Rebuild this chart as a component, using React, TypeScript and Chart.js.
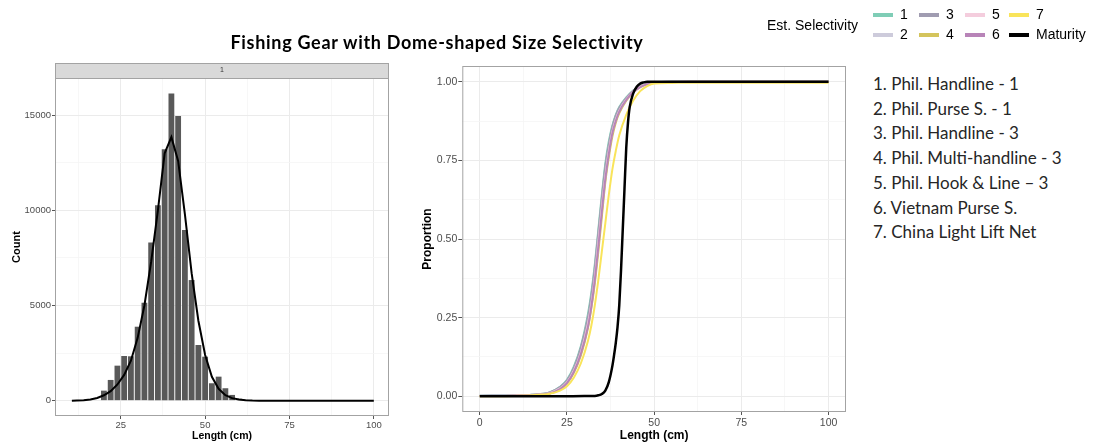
import React, { useEffect, useRef } from 'react';
import Chart from 'chart.js/auto';

// ---------- Data ----------
const histCenters = [20, 22, 24, 26, 28, 30, 32, 34, 36, 38, 40, 42, 44, 46, 48, 50, 52, 54, 56, 58, 60, 62];
const histCounts = [525, 1087, 1838, 2347, 2330, 3885, 5145, 8316, 10274, 13214, 16138, 14963, 8962, 6337, 2924, 2310, 913, 1260, 651, 300, 100, 40];

const densityX = [10.5, 12, 14, 16, 18, 20, 22, 24, 26, 28, 30, 32, 34, 36, 38, 40, 42, 44, 46, 48, 50, 52, 54, 56, 58, 60, 62, 64, 66, 70, 80, 90, 100];
const densityY = [0, 10, 25, 60, 140, 280, 500, 850, 1350, 2100, 3300, 5000, 7300, 10000, 13000, 13850, 12600, 9800, 6700, 4200, 2400, 1250, 620, 290, 130, 55, 20, 6, 0, 0, 0, 0, 0];

const selLengths = [0, 10, 15, 20, 23, 25, 27, 29, 31, 32, 33, 34, 35, 36, 37, 38, 39, 40, 42, 44, 46, 48, 50, 55, 60, 100];
const sel1 = [0.002, 0.003, 0.005, 0.012, 0.03, 0.052, 0.095, 0.16, 0.26, 0.33, 0.42, 0.53, 0.64, 0.74, 0.81, 0.86, 0.895, 0.92, 0.95, 0.972, 0.986, 0.994, 0.998, 1, 1, 1];
const sel2 = [0.002, 0.003, 0.005, 0.011, 0.028, 0.048, 0.088, 0.15, 0.245, 0.31, 0.4, 0.51, 0.62, 0.72, 0.795, 0.85, 0.888, 0.915, 0.947, 0.97, 0.985, 0.993, 0.998, 1, 1, 1];
const sel3 = [0.002, 0.003, 0.005, 0.012, 0.029, 0.05, 0.09, 0.155, 0.25, 0.32, 0.41, 0.52, 0.63, 0.73, 0.8, 0.855, 0.892, 0.917, 0.948, 0.971, 0.985, 0.993, 0.998, 1, 1, 1];
const sel4 = [0.001, 0.002, 0.004, 0.009, 0.022, 0.04, 0.075, 0.13, 0.215, 0.28, 0.36, 0.46, 0.57, 0.68, 0.76, 0.825, 0.87, 0.9, 0.94, 0.966, 0.983, 0.992, 0.997, 0.999, 1, 1];
const sel5 = [0.001, 0.002, 0.004, 0.01, 0.025, 0.044, 0.082, 0.14, 0.23, 0.295, 0.38, 0.49, 0.6, 0.7, 0.78, 0.84, 0.88, 0.908, 0.943, 0.968, 0.984, 0.993, 0.997, 1, 1, 1];
const sel6 = [0.001, 0.002, 0.004, 0.009, 0.023, 0.042, 0.078, 0.135, 0.22, 0.285, 0.37, 0.475, 0.585, 0.69, 0.77, 0.835, 0.875, 0.905, 0.942, 0.967, 0.983, 0.992, 0.997, 0.999, 1, 1];
const sel7 = [0, 0.001, 0.003, 0.008, 0.018, 0.032, 0.06, 0.105, 0.175, 0.225, 0.29, 0.37, 0.46, 0.55, 0.64, 0.72, 0.78, 0.83, 0.895, 0.94, 0.97, 0.986, 0.994, 0.996, 0.997, 0.997];
const selSeries = [sel1, sel2, sel3, sel4, sel5, sel6, sel7];

const matLengths = [0, 20, 30, 33, 34, 35, 36, 37, 38, 38.5, 39, 39.5, 40, 40.5, 41, 41.5, 42, 42.5, 43, 44, 45, 46, 47, 48, 50, 100];
const maturity = [0, 0, 0.0005, 0.001, 0.003, 0.007, 0.018, 0.045, 0.095, 0.13, 0.17, 0.22, 0.29, 0.4, 0.53, 0.66, 0.79, 0.87, 0.92, 0.963, 0.984, 0.994, 0.998, 1, 1, 1];

const legendLabels = ['1', '2', '3', '4', '5', '6', '7', 'Maturity'];
const seriesColors = ['#7fcdb6', '#cdcbdb', '#a09cb1', '#d4c45c', '#f4cddd', '#b884b8', '#f9e45a', '#000000'];

const gearLabels = [
  '1. Phil. Handline - 1',
  '2. Phil. Purse S. - 1',
  '3. Phil. Handline - 3',
  '4. Phil. Multi-handline - 3',
  '5. Phil. Hook & Line \u2013 3',
  '6. Vietnam Purse S.',
  '7. China Light Lift Net',
];

const histXMajor = [25, 50, 75, 100];
const histXMinor = [12.5, 37.5, 62.5, 87.5];
const histYMajor = [0, 5000, 10000, 15000];
const histYMinor = [2500, 7500, 12500];
const selXMajor = [0, 25, 50, 75, 100];
const selXMinor = [12.5, 37.5, 62.5, 87.5];
const selYMajor = [0, 0.25, 0.5, 0.75, 1];
const selYMinor = [0.125, 0.375, 0.625, 0.875];

const FONT = "'Liberation Sans', Arial, sans-serif";

function axis(
  majors: number[],
  minors: number[],
  min: number,
  max: number,
  fmt: (v: number) => string,
  fontSize: number,
  title: string,
  titleSize: number,
  titlePad: any,
  fitSize: number,
  isX: boolean,
  tickPad: number,
  tickLen: number
) {
  const all = [...majors, ...minors].sort((a, b) => a - b);
  const isMajor = (v: number) => majors.some((m) => Math.abs(m - v) < 1e-9);
  return {
    type: 'linear',
    min,
    max,
    offset: false,
    afterBuildTicks: (s: any) => {
      s.ticks = all.map((v) => ({ value: v }));
    },
    afterFit: (s: any) => {
      if (isX) s.height = fitSize;
      else s.width = fitSize;
    },
    ticks: {
      autoSkip: false,
      maxRotation: 0,
      minRotation: 0,
      padding: tickPad,
      color: '#4d4d4d',
      font: { family: FONT, size: fontSize },
      callback: (v: any) => (isMajor(Number(v)) ? fmt(Number(v)) : ''),
    },
    grid: {
      offset: false,
      color: (c: any) => (c.tick && isMajor(c.tick.value) ? '#ebebeb' : '#f5f5f5'),
      lineWidth: (c: any) => (c.tick && isMajor(c.tick.value) ? 1 : 0.8),
      drawTicks: true,
      tickLength: tickLen,
      tickColor: (c: any) => (c.tick && isMajor(c.tick.value) ? '#555555' : 'rgba(0,0,0,0)'),
      tickWidth: 1,
    },
    border: { display: false },
    title: {
      display: true,
      text: title,
      color: '#000000',
      font: { family: FONT, size: titleSize, weight: 'bold' },
      padding: titlePad,
    },
  };
}

function framePlugin(strip: string | null) {
  return {
    id: 'frame' + (strip ? 'S' : ''),
    afterDatasetsDraw(chart: any) {
      const { ctx, chartArea: a } = chart;
      ctx.save();
      ctx.strokeStyle = '#a3a3a3';
      ctx.lineWidth = 1;
      ctx.strokeRect(a.left + 0.5, a.top + 0.5, a.right - a.left - 1, a.bottom - a.top - 1);
      if (strip) {
        const h = 15;
        ctx.fillStyle = '#d9d9d9';
        ctx.fillRect(a.left, a.top - h, a.right - a.left, h);
        ctx.strokeStyle = '#a3a3a3';
        ctx.strokeRect(a.left + 0.5, a.top - h + 0.5, a.right - a.left - 1, h);
        ctx.fillStyle = '#333333';
        ctx.font = '7px ' + FONT;
        ctx.textAlign = 'center';
        ctx.textBaseline = 'middle';
        ctx.fillText(strip, (a.left + a.right) / 2, a.top - h / 2);
      }
      ctx.restore();
    },
  };
}

function HistChart() {
  const ref = useRef<HTMLCanvasElement>(null);
  useEffect(() => {
    if (!ref.current) return;
    const chart = new Chart(ref.current, {
      type: 'bar',
      data: {
        datasets: [
          {
            type: 'line',
            data: densityX.map((x, i) => ({ x, y: densityY[i] })),
            borderColor: '#000000',
            borderWidth: 2,
            pointRadius: 0,
            tension: 0,
            order: 0,
          } as any,
          {
            type: 'bar',
            data: histCenters.map((x, i) => ({ x, y: histCounts[i] })),
            backgroundColor: '#595959',
            borderWidth: 0,
            barPercentage: 0.86,
            categoryPercentage: 1,
            order: 1,
          } as any,
        ],
      },
      options: {
        responsive: false,
        animation: false,
        layout: { padding: { top: 78, right: 16, left: 0, bottom: 0 } },
        plugins: { legend: { display: false }, tooltip: { enabled: false } },
        scales: {
          x: axis(histXMajor, histXMinor, 5.5, 104.5, (v) => String(v), 9.5, 'Length (cm)', 10.5, { top: 0, bottom: 0.5 }, 27, true, 1, 3) as any,
          y: axis(histYMajor, histYMinor, -808, 16957, (v) => String(v), 9.5, 'Count', 11, { top: 10.4, bottom: 0 }, 55, false, 1, 3) as any,
        },
      },
      plugins: [framePlugin('1')],
    });
    return () => chart.destroy();
  }, []);
  return <canvas ref={ref} width={405} height={443} style={{ position: 'absolute', left: 0, top: 0, width: 405, height: 443 }} />;
}

function SelChart() {
  const ref = useRef<HTMLCanvasElement>(null);
  useEffect(() => {
    if (!ref.current) return;
    const datasets: any[] = selSeries.map((s, k) => ({
      type: 'line',
      label: legendLabels[k],
      data: selLengths.map((x, i) => ({ x, y: s[i] })),
      borderColor: seriesColors[k],
      borderWidth: 2,
      pointRadius: 0,
      cubicInterpolationMode: 'monotone',
      order: 7 - k,
    }));
    datasets.push({
      type: 'line',
      label: legendLabels[7],
      data: matLengths.map((x, i) => ({ x, y: maturity[i] })),
      borderColor: seriesColors[7],
      borderWidth: 2.5,
      pointRadius: 0,
      cubicInterpolationMode: 'monotone',
      order: 0,
    });
    const chart = new Chart(ref.current, {
      type: 'line',
      data: { datasets },
      options: {
        responsive: false,
        animation: false,
        layout: { padding: { top: 66, right: 19, left: 0, bottom: 0 } },
        plugins: { legend: { display: false }, tooltip: { enabled: false } },
        scales: {
          x: axis(selXMajor, selXMinor, -5, 105, (v) => String(v), 10.5, 'Length (cm)', 12, { top: 0, bottom: 0 }, 31, true, 2, 3) as any,
          y: axis(selYMajor, selYMinor, -0.05, 1.05, (v) => v.toFixed(2), 10.5, 'Proportion', 12, { top: 15.8, bottom: 0 }, 57.3, false, 1, 4) as any,
        },
      },
      plugins: [framePlugin(null)],
    });
    return () => chart.destroy();
  }, []);
  return <canvas ref={ref} width={460} height={443} style={{ position: 'absolute', left: 405, top: 0, width: 460, height: 443 }} />;
}

function Legend() {
  const cols = [873, 919, 965, 1009];
  const rows = [15, 35];
  const items = legendLabels.map((lab, i) => {
    const c = Math.floor(i / 2);
    const r = i % 2;
    return (
      <React.Fragment key={lab}>
        <div style={{ position: 'absolute', left: cols[c], top: rows[r] - 2, width: 20, height: 4, background: seriesColors[i] }} />
        <div style={{ position: 'absolute', left: cols[c] + 27, top: rows[r] - 9, height: 18, lineHeight: '18px', font: `14px ${FONT}`, color: '#000', whiteSpace: 'nowrap' }}>{lab}</div>
      </React.Fragment>
    );
  });
  return (
    <>
      <div style={{ position: 'absolute', left: 767, top: 17, height: 20, lineHeight: '20px', font: `14px ${FONT}`, color: '#000', whiteSpace: 'nowrap' }}>Est. Selectivity</div>
      {items}
    </>
  );
}

export default function App() {
  return (
    <div style={{ position: 'absolute', left: 0, top: 0, width: 1093, height: 443, background: '#ffffff', overflow: 'hidden' }}>
      <HistChart />
      <SelChart />
      <div style={{ position: 'absolute', left: 0, width: 874, top: 31, lineHeight: '22px', textAlign: 'center', font: "bold 18px Lato, 'Open Sans', sans-serif", letterSpacing: '0.7px', color: '#000', whiteSpace: 'nowrap' }}>
        Fishing Gear with Dome-shaped Size Selectivity
      </div>
      <Legend />
      <div style={{ position: 'absolute', left: 873, top: 72, font: "17px Lato, 'Open Sans', sans-serif", lineHeight: '24.7px', color: '#262626', whiteSpace: 'nowrap' }}>
        {gearLabels.map((g) => (
          <div key={g}>{g}</div>
        ))}
      </div>
    </div>
  );
}
